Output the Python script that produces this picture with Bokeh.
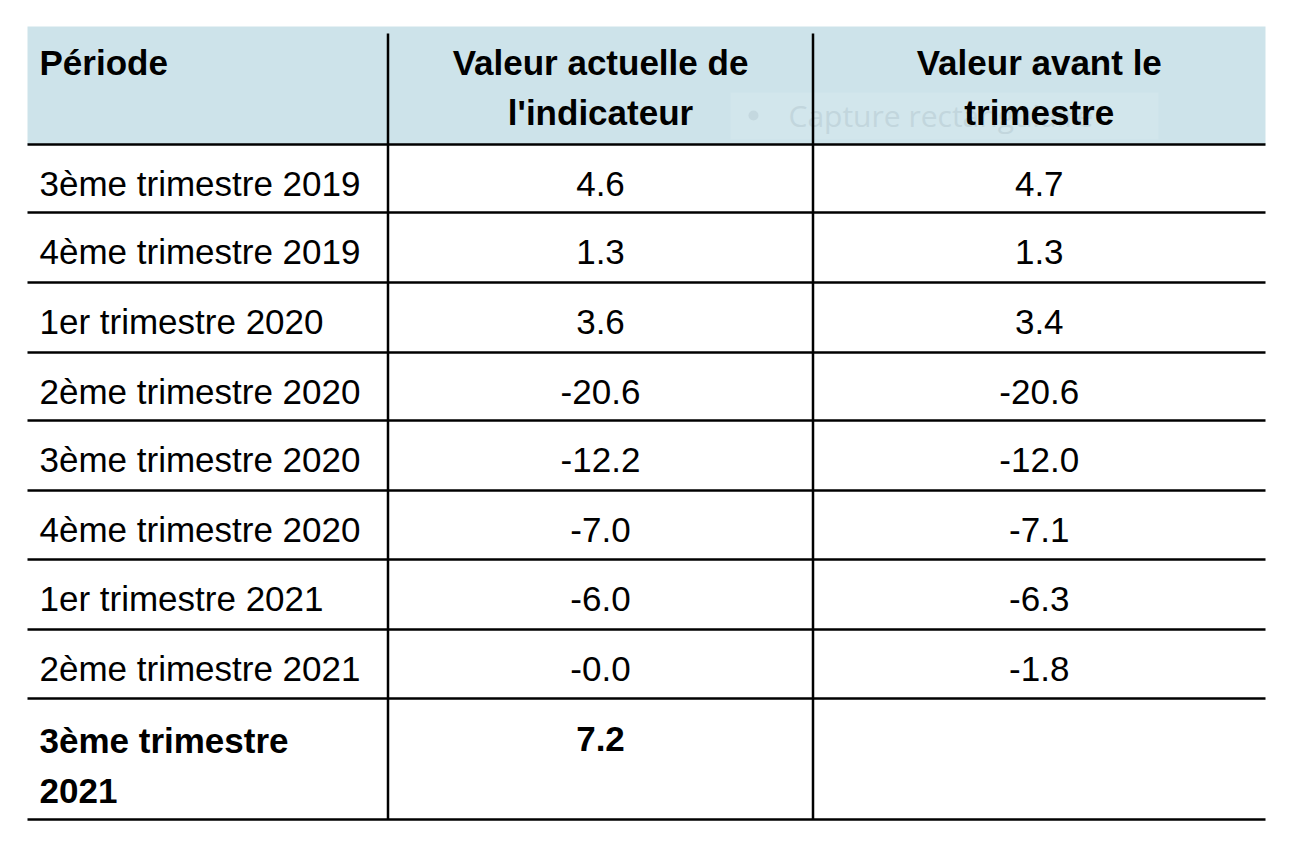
from bokeh.plotting import figure
from bokeh.models import Range1d
from bokeh.core.properties import value
from bokeh.embed import file_html
from bokeh.resources import INLINE

# ---------------- data ----------------
headers = ["Période", "Valeur actuelle de\nl'indicateur", "Valeur avant le\ntrimestre"]
periods = ["3ème trimestre 2019", "4ème trimestre 2019", "1er trimestre 2020",
           "2ème trimestre 2020", "3ème trimestre 2020", "4ème trimestre 2020",
           "1er trimestre 2021", "2ème trimestre 2021", "3ème trimestre\n2021"]
current = [4.6, 1.3, 3.6, -20.6, -12.2, -7.0, -6.0, -0.0, 7.2]
previous = [4.7, 1.3, 3.4, -20.6, -12.0, -7.1, -6.3, -1.8, None]
overlay_label = "Capture rectangulaire"

# ---------------- layout ----------------
W, H = 1280, 850
LEFT, RIGHT = 27, 1265
HEAD_TOP, HEAD_BOT = 26, 144
row_bounds = [144, 212, 282, 352, 420, 490, 559, 629, 698, 819]
col_bounds = [LEFT, 387.5, 812.5, RIGHT]
FONT = value("Liberation Sans")
FS = "35px"
LINE_GAP = 50

p = figure(width=W, height=H, output_backend="svg", toolbar_location=None,
           x_range=Range1d(0, W), y_range=Range1d(H, 0),
           min_border=0, border_fill_color="white", background_fill_color="white")
p.axis.visible = False
p.grid.visible = False
p.outline_line_color = None

# header background
p.quad(left=[LEFT], right=[RIGHT], top=[HEAD_TOP], bottom=[HEAD_BOT],
       fill_color="#cde3ea", line_color=None)

# faint screen-capture tooltip overlay
p.quad(left=[730], right=[1158], top=[92], bottom=[139],
       fill_color="#d2e6ec", line_color=None)
p.scatter(x=[753], y=[115], size=10, marker="circle",
          fill_color="#c4d8df", line_color=None)
p.text(x=[788], y=[115], text=[overlay_label], text_font=value("Open Sans"),
       text_font_size="30px", text_color="#c2d6dd", text_baseline="middle")

# horizontal rules
p.segment(x0=[LEFT] * len(row_bounds), x1=[RIGHT] * len(row_bounds),
          y0=row_bounds, y1=row_bounds, line_color="black", line_width=2.5)
# vertical rules
p.segment(x0=col_bounds[1:3], x1=col_bounds[1:3], y0=[33, 33], y1=[row_bounds[-1]] * 2,
          line_color="black", line_width=2.5)

col_centers = [(col_bounds[1] + col_bounds[2]) / 2, (col_bounds[2] + col_bounds[3]) / 2]
TX = 39
SHIFT = 14

# header texts
hx, hy, ht, ha = [], [], [], []
for ci, h in enumerate(headers):
    for li, line in enumerate(h.split("\n")):
        if ci == 0:
            hx.append(TX); ha.append("left")
        else:
            hx.append(col_centers[ci - 1]); ha.append("center")
        hy.append(76 - SHIFT + li * LINE_GAP)
        ht.append(line)
p.text(x=hx, y=hy, text=ht, text_align=ha, text_font=FONT, text_font_size=FS,
       text_font_style="bold", text_baseline="alphabetic", text_color="black")

# body
n = len(periods)
for i in range(n):
    top = row_bounds[i]
    bold = (i == n - 1)
    style = "bold" if bold else "normal"
    base = top + (56 if bold else 53) - SHIFT
    lines = periods[i].split("\n")
    p.text(x=[TX] * len(lines), y=[base + k * LINE_GAP for k in range(len(lines))],
           text=lines, text_align="left", text_font=FONT, text_font_size=FS,
           text_font_style=style, text_baseline="alphabetic", text_color="black")
    vals = [current[i], previous[i]]
    xs, ts = [], []
    for j, v in enumerate(vals):
        if v is None:
            continue
        xs.append(col_centers[j]); ts.append(f"{v:.1f}")
    p.text(x=xs, y=[base - (2 if bold else 0)] * len(xs), text=ts, text_align="center",
           text_font=FONT, text_font_size=FS, text_font_style=style,
           text_baseline="alphabetic", text_color="black")

open("out.html", "w").write(file_html(p, INLINE))
